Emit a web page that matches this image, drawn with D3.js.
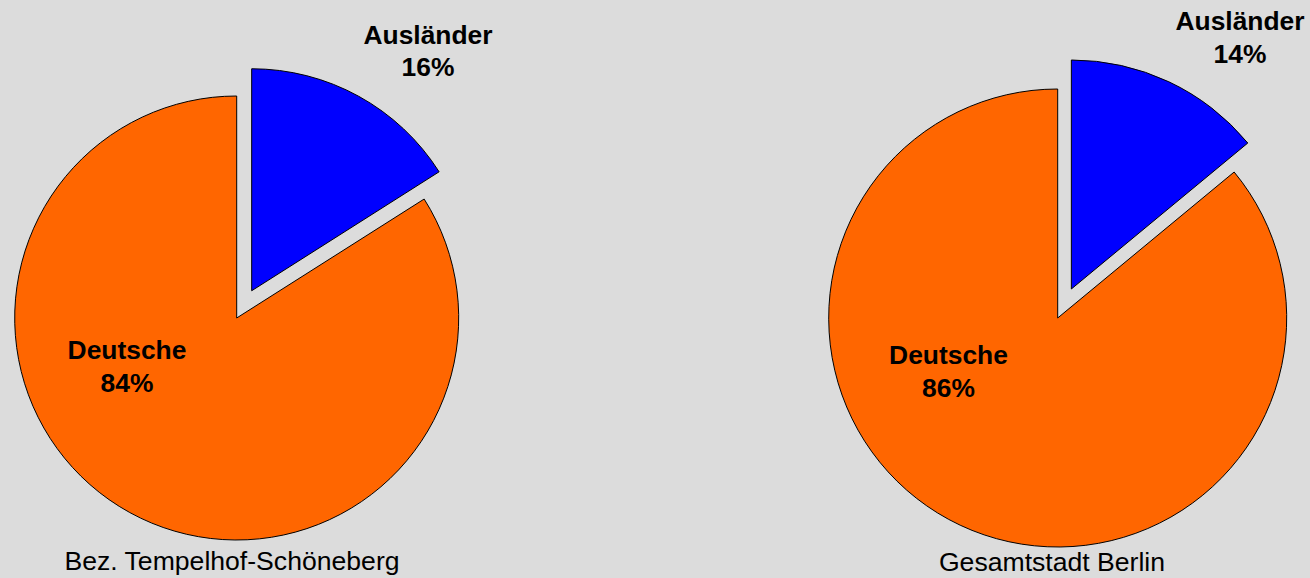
<!DOCTYPE html>
<html>
<head>
<meta charset="utf-8">
<script src="https://cdn.jsdelivr.net/npm/d3@7"></script>
<style>
  body { margin: 0; background: #dcdcdc; }
  svg { display: block; }
  text { font-family: "Liberation Sans", Arial, sans-serif; fill: #000; }
</style>
</head>
<body>
<div id="chart"></div>
<script>
var width = 1310;
var height = 578;

// data
var categories = ["Ausländer", "Deutsche"];
var tempelhofValues = [16, 84];
var berlinValues = [14, 86];
var pieTitles = ["Bez. Tempelhof-Schöneberg", "Gesamtstadt Berlin"];
var sliceColors = ["#0000ff", "#ff6600"];

// layout of the two pies (centre, radius, label spots)
var pies = [
  { values: tempelhofValues, title: pieTitles[0], cx: 236.7, cy: 318, r: 222,
    labels: [[428, 43.5], [127, 359.3]], titleAt: [232, 569.5] },
  { values: berlinValues, title: pieTitles[1], cx: 1057.7, cy: 318, r: 229,
    labels: [[1240, 30], [948.5, 364]], titleAt: [1052, 571] }
];
var explode = 0.14;   // share of radius the first slice is pulled out
var lineGap = 32.7;

var svg = d3.select("#chart").append("svg")
      .attr("width", width)
      .attr("height", height);

svg.append("rect")
      .attr("width", width)
      .attr("height", height)
      .style("fill", "#dcdcdc");

var pie = d3.pie().sort(null).value(d => d.value);

pies.forEach(function(p) {
  var data = categories.map((c, i) => ({ name: c, value: p.values[i], color: sliceColors[i] }));
  var arcs = pie(data);
  var arc = d3.arc().innerRadius(0).outerRadius(p.r);
  var total = d3.sum(p.values);

  var g = svg.append("g")
        .attr("transform", "translate(" + p.cx + "," + p.cy + ")");

  g.selectAll("path")
        .data(arcs)
    .enter()
        .append("path")
        .attr("d", arc)
        .attr("transform", function(d, i) {
          if (i !== 0) return null;
          var mid = (d.startAngle + d.endAngle) / 2;
          var off = p.r * explode;
          return "translate(" + (Math.sin(mid) * off) + "," + (-Math.cos(mid) * off) + ")";
        })
        .style("fill", d => d.data.color)
        .style("stroke", "#000")
        .style("stroke-width", 1);

  // slice labels
  arcs.forEach(function(d, i) {
    var t = svg.append("text")
          .attr("x", p.labels[i][0])
          .attr("y", p.labels[i][1])
          .style("text-anchor", "middle")
          .style("font-size", "26.4px")
          .style("font-weight", "bold");
    t.append("tspan")
          .attr("x", p.labels[i][0])
          .text(d.data.name);
    t.append("tspan")
          .attr("x", p.labels[i][0])
          .attr("dy", lineGap)
          .text(Math.round(d.data.value / total * 100) + "%");
  });

  svg.append("text")
        .attr("x", p.titleAt[0])
        .attr("y", p.titleAt[1])
        .style("text-anchor", "middle")
        .style("font-size", "26.6px")
        .text(p.title);
});
</script>
</body>
</html>
